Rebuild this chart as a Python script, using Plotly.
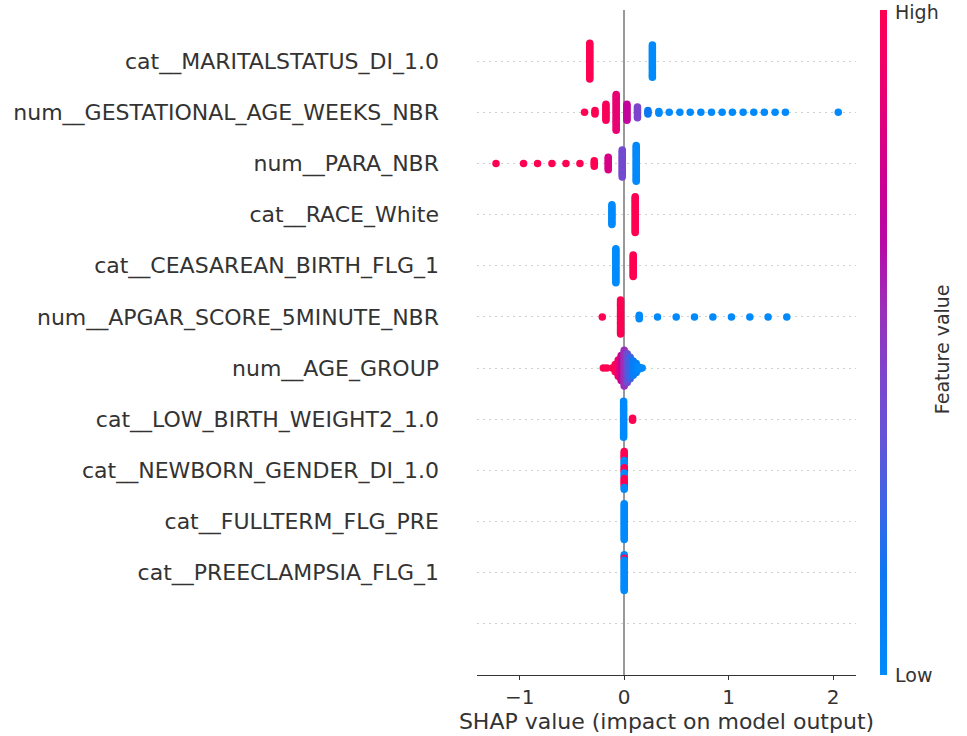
import plotly.graph_objects as go

# ---------------- data ----------------
features = [
    "cat__MARITALSTATUS_DI_1.0",
    "num__GESTATIONAL_AGE_WEEKS_NBR",
    "num__PARA_NBR",
    "cat__RACE_White",
    "cat__CEASAREAN_BIRTH_FLG_1",
    "num__APGAR_SCORE_5MINUTE_NBR",
    "num__AGE_GROUP",
    "cat__LOW_BIRTH_WEIGHT2_1.0",
    "cat__NEWBORN_GENDER_DI_1.0",
    "cat__FULLTERM_FLG_PRE",
    "cat__PREECLAMPSIA_FLG_1",
    "",
]

# each feature: SHAP value of a group of samples, normalised feature value (0=low, 1=high), group size
marital_shap = [-0.33, 0.27]
marital_val = [1.0, 0.0]
marital_n = [21, 19]

gest_shap = [-0.38, -0.28, -0.175, -0.077, 0.026, 0.127, 0.227, 0.332, 0.431, 0.533, 0.632,
             0.734, 0.836, 0.938, 1.036, 1.139, 1.241, 1.342, 1.445, 1.544, 2.05]
gest_val = [1.0, 1.0, 0.97, 0.88, 0.7, 0.45, 0.15, 0, 0, 0, 0, 0, 0, 0, 0, 0, 0, 0, 0, 0, 0]
gest_n = [1, 3, 10, 21, 10, 7, 3, 2, 1, 1, 1, 1, 1, 1, 1, 1, 1, 1, 1, 1, 1]

para_shap = [-1.228, -0.964, -0.830, -0.692, -0.558, -0.424, -0.287, -0.153, -0.019, 0.115]
para_val = [1, 1, 1, 1, 1, 1, 1, 0.8, 0.42, 0]
para_n = [1, 1, 1, 1, 1, 1, 4, 8, 16, 21]

race_shap = [-0.118, 0.105]
race_val = [0, 1]
race_n = [12, 21]

csec_shap = [-0.08, 0.086]
csec_val = [0, 1]
csec_n = [20, 13]

apgar_shap = [-0.21, -0.035, 0.144, 0.319, 0.498, 0.673, 0.849, 1.027, 1.203, 1.378, 1.557]
apgar_val = [1, 1, 0, 0, 0, 0, 0, 0, 0, 0, 0]
apgar_n = [1, 20, 3, 1, 1, 1, 1, 1, 1, 1, 1]

age_shap = [-0.2, -0.167, -0.115, -0.086, -0.057, -0.029, 0.0, 0.029, 0.057, 0.086, 0.115, 0.144, 0.172]
age_val = [1, 1, 1, 1, 0.9, 0.75, 0.55, 0.4, 0.25, 0.1, 0.05, 0, 0]
age_n = [1, 1, 1, 5, 10, 15, 21, 17, 13, 9, 6, 2, 1]

lbw_shap = [-0.006, 0.08]
lbw_val = [0, 1]
lbw_n = [21, 2]

gender_shap = [0.0, 0.0, 0.0, 0.0, 0.0, 0.0]
gender_val = [1, 0, 1, 0, 1, 0]
gender_n = [5, 4, 3, 3, 5, 2]

fullterm_shap = [0.0]
fullterm_val = [0]
fullterm_n = [21]

preec_shap = [0.0, 0.0, 0.0]
preec_val = [0, 1, 0]
preec_n = [2, 1, 18]

groups = [
    (marital_shap, marital_val, marital_n),
    (gest_shap, gest_val, gest_n),
    (para_shap, para_val, para_n),
    (race_shap, race_val, race_n),
    (csec_shap, csec_val, csec_n),
    (apgar_shap, apgar_val, apgar_n),
    (age_shap, age_val, age_n),
    (lbw_shap, lbw_val, lbw_n),
    (gender_shap, gender_val, gender_n),
    (fullterm_shap, fullterm_val, fullterm_n),
    (preec_shap, preec_val, preec_n),
    ([], [], []),
]

x_ticks = [-1, 0, 1, 2]
colorbar_labels = ["Low", "High"]
colorbar_title = "Feature value"

# ---------------- beeswarm layout ----------------
STEP = 0.035  # vertical spacing between stacked samples (row units)
xs, ys, cs = [], [], []
nrows = len(features)
for i, (sh, fv, nn) in enumerate(groups):
    row_y = nrows - 1 - i
    stacks = {}
    order = []
    for s, v, n in zip(sh, fv, nn):
        if s not in stacks:
            stacks[s] = []
            order.append(s)
        stacks[s].extend([v] * n)
    for s in order:
        vals = stacks[s]
        N = len(vals)
        for k, v in enumerate(vals):
            off = ((N - 1) / 2 - k) * STEP
            xs.append(s)
            ys.append(row_y + off)
            cs.append(v)

red_blue = [
    [0.0, "#008afb"],
    [0.15, "#0d76f2"],
    [0.25, "#3a66e6"],
    [0.35, "#6255d8"],
    [0.45, "#7c45cc"],
    [0.55, "#9a30b8"],
    [0.65, "#b70aa5"],
    [0.75, "#cc0090"],
    [0.85, "#e3007a"],
    [1.0, "#ff0052"],
]

fig = go.Figure()
fig.add_trace(go.Scatter(
    x=xs, y=ys, mode="markers",
    marker=dict(
        size=7.5, color=cs, colorscale=red_blue, cmin=0, cmax=1,
        line=dict(width=0), opacity=1,
        showscale=True,
        colorbar=dict(
            x=1.063, xanchor="left", xpad=0, y=0.5, yanchor="middle", ypad=0,
            len=1, lenmode="fraction", thickness=7, outlinewidth=0,
            showticklabels=False, ticks="",
        ),
    ),
    hoverinfo="skip", showlegend=False,
))

cb_font = dict(family="DejaVu Sans", size=19, color="#333333")
fig.add_annotation(x=1.0976, y=0.0, xref="paper", yref="paper", text=colorbar_labels[0],
                   showarrow=False, xanchor="left", yanchor="middle", font=cb_font)
fig.add_annotation(x=1.0976, y=0.997, xref="paper", yref="paper", text=colorbar_labels[1],
                   showarrow=False, xanchor="left", yanchor="middle", font=cb_font)
fig.add_annotation(x=1.227, y=0.49, xref="paper", yref="paper", text=colorbar_title,
                   showarrow=False, xanchor="center", yanchor="middle", textangle=-90, font=cb_font)

fig.update_layout(
    width=967, height=736,
    margin=dict(l=477, r=111, t=10, b=59),
    paper_bgcolor="white", plot_bgcolor="white",
    font=dict(family="DejaVu Sans", color="#333333"),
)
fig.update_xaxes(
    range=[-1.41, 2.22], tickvals=x_ticks, showgrid=False,
    zeroline=True, zerolinecolor="#999999", zerolinewidth=1.5,
    showline=True, linecolor="#333333", linewidth=1,
    ticks="outside", ticklen=4, tickcolor="#333333",
    tickfont=dict(size=20, color="#333333"),
    title=dict(text="SHAP value (impact on model output)", font=dict(size=22, color="#333333"), standoff=2),
)
fig.update_yaxes(
    range=[-1, nrows], tickvals=list(range(nrows)), ticktext=features[::-1],
    showgrid=True, griddash="2px,4px", gridcolor="#d0d0d0", gridwidth=1,
    zeroline=False, showline=False, ticks="", ticklabelstandoff=37,
    tickfont=dict(size=22, color="#333333"),
)

# remove the browser's default page margin so the figure sits at the window's top-left corner
fig.write_html("out.html", config={"displayModeBar": False},
               post_script="document.body.style.margin='0px';")
